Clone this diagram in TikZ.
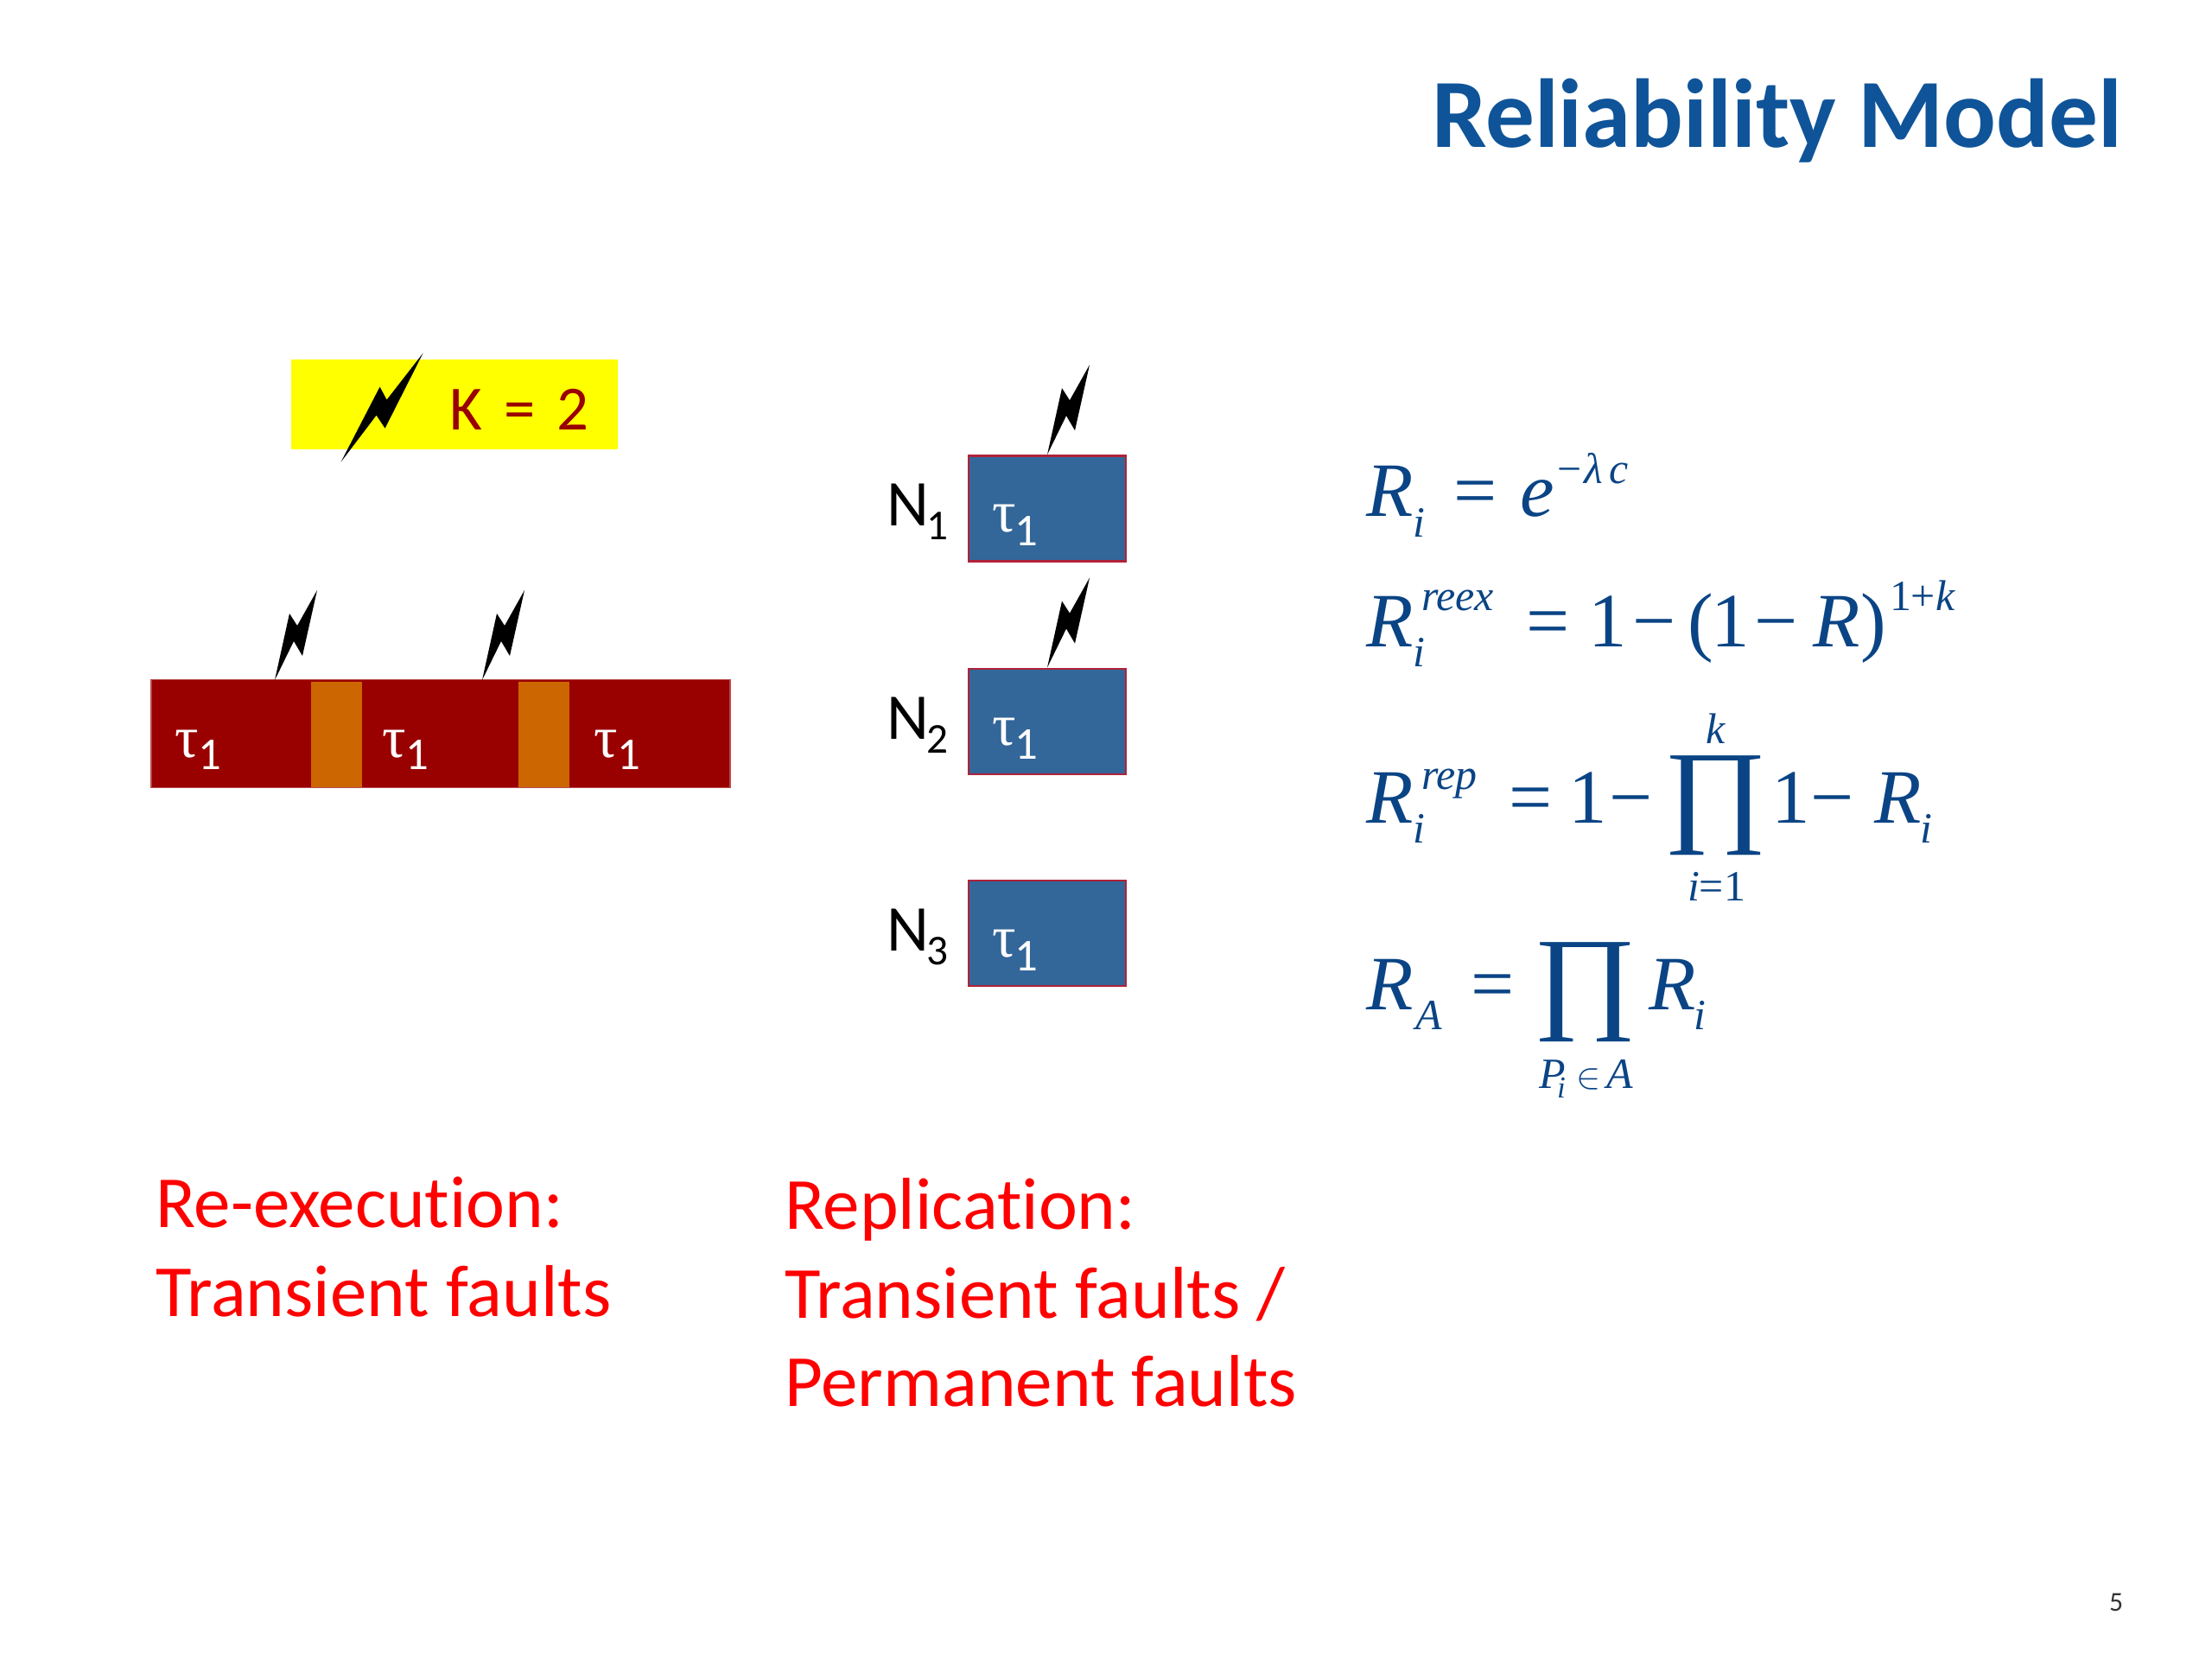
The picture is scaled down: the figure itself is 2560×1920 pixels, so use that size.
\documentclass[tikz,border=0pt]{standalone}
\usepackage{fontspec}
\setmainfont{Carlito}[Ligatures=NoCommon]
\newfontfamily\eqfont{Liberation Serif}
\usetikzlibrary{positioning}
\definecolor{titleblue}{HTML}{0F5499}
\definecolor{eqblue}{HTML}{0A4485}
\definecolor{barred}{HTML}{990000}
\definecolor{slotorange}{HTML}{CC6600}
\definecolor{nodeblue}{HTML}{336699}
\definecolor{nodeline}{HTML}{B0223A}
\definecolor{kyellow}{HTML}{FFFF00}
\definecolor{capred}{HTML}{FF0000}
\tikzset{
  txt/.style={anchor=base west,inner sep=0pt,outer sep=0pt},
  eqit/.style={txt,text=eqblue,font=\eqfont\itshape\fontsize{25.3}{28}\selectfont},
  equp/.style={txt,text=eqblue,font=\eqfont\fontsize{25.3}{28}\selectfont},
  eqsm/.style={txt,text=eqblue,font=\eqfont\itshape\fontsize{14.2}{16}\selectfont},
  eqsu/.style={txt,text=eqblue,font=\eqfont\fontsize{14.2}{16}\selectfont},
  eqprod/.style={inner sep=0pt,text=eqblue},
  redtxt/.style={txt,text=capred,font=\fontsize{24.2}{28}\selectfont},
  tasksym/.style={txt,text=white,font=\eqfont\fontsize{19.5}{22}\selectfont},
  tasksub/.style={txt,text=white,font=\fontsize{15}{17}\selectfont},
  nodesym/.style={txt,font=\fontsize{21.5}{25}\selectfont},
  nodesub/.style={txt,font=\fontsize{14}{16}\selectfont},
  nodebox/.style={draw=nodeline,fill=nodeblue,line width=.8pt,minimum width=1.82cm,minimum height=1.22cm,inner sep=0pt},
  slotbox/.style={fill=slotorange,minimum width=.59cm,minimum height=1.22cm,inner sep=0pt},
  bolt/.pic={\fill[black] (0,0) -- (17,-77) -- (26,-63) -- (49,-104) -- (32,-28) -- (22,-45) -- cycle;},
  bigbolt/.pic={\fill[black] (0,0) -- (45,-87) -- (53,-72) -- (95,-126) -- (51,-39) -- (41,-54) -- cycle;}
}
\newcommand{\bigprod}{\resizebox*{1.2cm}{1.15cm}{\eqfont ∏}}
\begin{document}
\begin{tikzpicture}[x=.01cm,y=-.01cm]
  \useasboundingbox (0,0) rectangle (2560,1920);
  \node[txt,text=titleblue,font=\bfseries\fontsize{32.2}{36}\selectfont] (title) at (1657,170) {Reliability Model};
  \node[txt,text=black!80,font=\fontsize{9}{10}\selectfont] (page) at (2441,1864) {5};

  % fault count
  \node[fill=kyellow,minimum width=3.78cm,minimum height=1.04cm,inner sep=0pt] (kbox) at (526,468) {};
  \node[txt,text=barred,font=\fontsize{20.7}{24}\selectfont] (klabel) at (520,497) {K\hspace{.09cm} = \hspace{.09cm}2};
  \pic at (394.6,534.6) {bigbolt};

  % re-execution
  \node[fill=barred,draw=barred!70!white,line width=.5pt,minimum width=6.7cm,minimum height=1.25cm,inner sep=0pt] (bar) at (510,849) {};
  \node[slotbox] (slota) at (389.5,850) {};
  \node[slotbox] (slotb) at (629.5,850) {};
  \pic at (318,787) {bolt};
  \pic at (558,787) {bolt};
  \foreach \x/\y in {202/a,442/b,687/c}{
    \node[tasksym] (taua\y) at (\x,876) {τ};
    \node[tasksub] (subb\y) at (\x+27,890) {1};
  }

  % replication
  \foreach \i/\y in {1/588.6,2/835,3/1080}{
    \node[nodebox] (box\i) at (1212,\y) {};
    \node[tasksym] (tau\i) at (1148,\y+27) {τ};
    \node[tasksub] (sub\i) at (1174,\y+43) {1};
    \node[nodesym] (n\i) at (1026,\y+20) {N};
    \node[nodesub] (m\i) at (1072,\y+36) {\i};
  }
  \pic at (box1.north) {bolt};
  \pic at (box2.north) {bolt};

  % first equation
  \node[eqit] (ra) at (1581,597) {R};
  \node[eqsm] (ras) at (1635,621) {i};
  \node[equp] (rae) at (1682,597) {=};
  \node[eqit] (ee) at (1759,597) {e};
  \node[eqsu] (ex) at (1802,559) {−};
  \node[eqsm] (el) at (1833,559) {λ};
  \node[eqsm] (ec) at (1862,559) {c};

  % second equation
  \node[eqit] (rb) at (1581,748) {R};
  \node[eqsm] (rbx) at (1645,706) {reex};
  \node[eqsm] (rbs) at (1635,771) {i};
  \foreach \x/\glyph in {1766/=,1838/1,1889/−,1953/(,1980/1,2030/−,2153/)}{
    \node[equp] (rb\x) at (\x,748) {\glyph};
  }
  \node[eqit] (rbr) at (2098,748) {R};
  \node[eqsu] (rbt) at (2187,706) {1+\textit{k}};

  % third equation
  \node[eqit] (rc) at (1581,952) {R};
  \node[eqsm] (rcx) at (1645,913) {rep};
  \node[eqsm] (rcs) at (1635,975) {i};
  \foreach \x/\glyph in {1746/=,1815/1,1862/−,2050/1,2095/−}{
    \node[equp] (rc\x) at (\x,952) {\glyph};
  }
  \node[eqprod] (pa) at (1986,932) {\bigprod};
  \node[eqsm] (pak) at (1974,860) {k};
  \node[eqsm] (pai) at (1953,1042) {i\textup{=1}};
  \node[eqit] (rcr) at (2169,952) {R};
  \node[eqsm] (rcq) at (2222,975) {i};

  % fourth equation
  \node[eqit] (rd) at (1581,1168) {R};
  \node[eqsm] (rds) at (1638,1191) {A};
  \node[equp] (rde) at (1702,1168) {=};
  \node[eqprod] (pb) at (1834.5,1148) {\bigprod};
  \node[eqit] (rdr) at (1908,1168) {R};
  \node[eqsm] (rdq) at (1960,1191) {i};
  \node[eqsm] (pbp) at (1781,1259) {P};
  \node[eqsm,font=\eqfont\itshape\fontsize{10}{12}\selectfont] (pbi) at (1802,1270) {i};
  \node[txt,text=eqblue,font=\fontsize{12}{14}\selectfont] (pbe) at (1824,1259) {$\in$};
  \node[eqsm] (pba) at (1859,1259) {A};

  % captions
  \node[redtxt] (cap1) at (180,1420) {Re-execution:};
  \node[redtxt] (cap2) at (180,1523) {Transient faults};
  \node[redtxt] (cap3) at (908,1422) {Replication:};
  \node[redtxt] (cap4) at (908,1525) {Transient faults /};
  \node[redtxt] (cap5) at (908,1627) {Permanent faults};
\end{tikzpicture}
\end{document}
